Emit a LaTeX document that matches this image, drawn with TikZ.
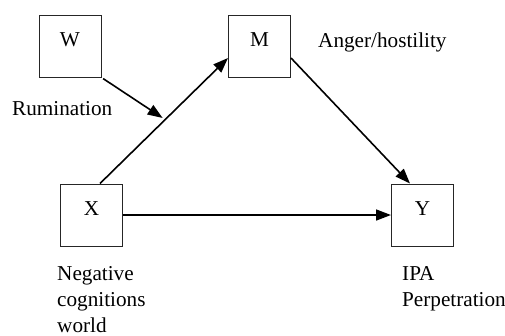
\documentclass[tikz,border=0pt]{standalone}
\usepackage{fontspec}
\setmainfont{Liberation Serif}
\usetikzlibrary{arrows.meta}
\begin{document}
\begin{tikzpicture}[x=1pt,y=-1pt,
  box/.style={draw=black!85,line width=1pt,rectangle,inner sep=0pt,minimum width=62pt,
    text height=31pt,text depth=31pt,font=\fontsize{21.2}{26}\selectfont},
  lbl/.style={inner sep=0pt,align=left,anchor=north west,font=\fontsize{21.2}{26}\selectfont},
  arr/.style={line width=1.6pt,-{Triangle[length=15pt,width=11pt]}}]
\useasboundingbox (0,0) rectangle (505,335);
\node[box] (W) at (70,46) {W};
\node[box] (M) at (259.5,46) {M};
\node[box] (X) at (91.5,215) {X};
\node[box] (Y) at (422.5,215) {Y};
\draw[arr] ([xshift=8.5pt]X.north) -- coordinate[pos=0.509] (P) ([yshift=-12pt]M.west);
\draw[arr] ([yshift=-12pt]M.east) -- ([xshift=-12.5pt]Y.north);
\draw[arr] (X.east) -- (Y.west);
\draw[arr,shorten <=2pt,shorten >=3pt] (W.south east) -- (P);
\node[lbl] (rum) at (12,101) {Rumination};
\node[lbl] (ang) at (318,33) {Anger/hostility};
\node[lbl] (neg) at (57,266) {Negative\\cognitions\\world};
\node[lbl] (ipa) at (402,266) {IPA\\Perpetration};
\end{tikzpicture}
\end{document}
